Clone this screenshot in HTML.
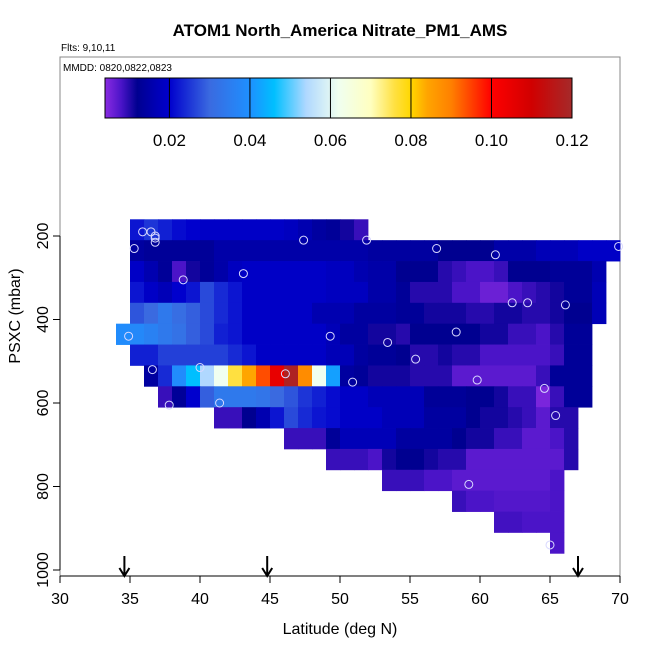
<!DOCTYPE html>
<html><head><meta charset="utf-8"><style>
body{margin:0;background:#fff}
svg{display:block;font-family:"Liberation Sans",sans-serif}
</style></head><body>
<svg id="c" width="650" height="650" xmlns="http://www.w3.org/2000/svg">
<text x="340" y="36" text-anchor="middle" font-size="17" font-weight="bold">ATOM1 North_America Nitrate_PM1_AMS</text>
<text x="61" y="51" font-size="10">Flts: 9,10,11</text>
<rect x="60" y="57" width="560" height="519" fill="none" stroke="#888" stroke-width="1"/>
<text x="63" y="71" font-size="10">MMDD: 0820,0822,0823</text>
<g id="cells"></g>
<g id="pts"></g>
<g id="cbar"></g>
<g id="axes"></g>
<text x="340" y="634" text-anchor="middle" font-size="16">Latitude (deg N)</text>
<text transform="translate(20,316) rotate(-90)" text-anchor="middle" font-size="16">PSXC (mbar)</text>
</svg>
<script>
const rowPressures=[185,235,285,335,385,435,485,535,585,635,685,735,785,835,885,935];
const rowStartLat=[35,35,35,35,35,34,35,36,37,41,46,49,53,58,61,65];
const row0=[0.022,0.025,0.023,0.021,0.020,0.019,0.019,0.019,0.019,0.019,0.019,0.018,0.016,0.014,0.013,0.011,0.009];
const row1=[0.014,0.013,0.013,0.013,0.013,0.013,0.015,0.015,0.015,0.015,0.015,0.015,0.015,0.015,0.015,0.015,0.015,0.014,0.014,0.014,0.014,0.014,0.012,0.012,0.012,0.012,0.015,0.015,0.015,0.017,0.017,0.017,0.019,0.019,0.019];
const row2=[0.019,0.016,0.013,0.008,0.011,0.013,0.015,0.018,0.019,0.019,0.019,0.019,0.019,0.019,0.018,0.018,0.016,0.015,0.015,0.012,0.012,0.012,0.010,0.009,0.008,0.008,0.009,0.012,0.012,0.012,0.013,0.013,0.013,0.016];
const row3=[0.022,0.019,0.017,0.020,0.022,0.027,0.024,0.022,0.019,0.019,0.019,0.019,0.019,0.019,0.018,0.018,0.018,0.015,0.015,0.013,0.010,0.010,0.010,0.008,0.008,0.006,0.006,0.008,0.009,0.010,0.011,0.013,0.013,0.017];
const row4=[0.028,0.030,0.034,0.031,0.029,0.027,0.024,0.022,0.019,0.019,0.019,0.019,0.019,0.016,0.016,0.016,0.014,0.014,0.014,0.013,0.013,0.011,0.011,0.011,0.010,0.010,0.011,0.011,0.010,0.010,0.011,0.012,0.012,0.017];
const row5=[0.039,0.038,0.036,0.034,0.032,0.029,0.027,0.023,0.022,0.019,0.019,0.019,0.019,0.019,0.019,0.017,0.014,0.014,0.011,0.011,0.010,0.012,0.012,0.012,0.012,0.012,0.011,0.011,0.009,0.009,0.008,0.010,0.013,0.013];
const row6=[0.023,0.023,0.026,0.026,0.026,0.026,0.026,0.024,0.022,0.019,0.019,0.019,0.019,0.019,0.017,0.017,0.014,0.013,0.013,0.012,0.010,0.010,0.011,0.010,0.010,0.008,0.008,0.008,0.008,0.008,0.009,0.013,0.013];
const row7=[0.014,0.024,0.039,0.046,0.054,0.062,0.076,0.084,0.094,0.105,0.118,0.088,0.062,0.042,0.014,0.013,0.011,0.011,0.011,0.010,0.010,0.010,0.007,0.007,0.007,0.007,0.007,0.007,0.009,0.013,0.013,0.013];
const row8=[0.009,0.013,0.020,0.029,0.034,0.034,0.034,0.033,0.030,0.028,0.025,0.023,0.021,0.019,0.019,0.017,0.017,0.017,0.017,0.013,0.013,0.013,0.012,0.012,0.011,0.009,0.009,0.005,0.009,0.013,0.013];
const row9=[0.009,0.009,0.012,0.016,0.022,0.027,0.024,0.022,0.021,0.019,0.019,0.019,0.017,0.017,0.017,0.014,0.014,0.014,0.012,0.011,0.011,0.010,0.009,0.007,0.010,0.010];
const row10=[0.009,0.009,0.009,0.013,0.017,0.017,0.017,0.017,0.014,0.014,0.014,0.014,0.012,0.011,0.011,0.009,0.009,0.007,0.007,0.008,0.010];
const row11=[0.009,0.009,0.009,0.008,0.011,0.012,0.012,0.011,0.010,0.010,0.007,0.007,0.007,0.007,0.007,0.007,0.007,0.010];
const row12=[0.009,0.009,0.009,0.008,0.008,0.007,0.007,0.007,0.007,0.007,0.007,0.007,0.008];
const row13=[0.009,0.008,0.008,0.0075,0.0075,0.0075,0.0075,0.008];
const row14=[0.0085,0.0085,0.008,0.008,0.008];
const row15=[0.008];
const rowValues=[row0,row1,row2,row3,row4,row5,row6,row7,row8,row9,row10,row11,row12,row13,row14,row15];
const pointLat=[35.9,36.5,36.8,36.8,36.8,35.3,47.4,51.9,38.8,43.1,34.9,49.3,36.6,40.0,46.1,50.9,37.8,41.4,56.9,61.1,69.9,62.3,63.4,66.1,58.3,53.4,55.4,59.8,64.6,65.4,59.2,65.0];
const pointP=[190,190,200,205,215,230,210,210,305,290,440,440,520,515,530,550,605,600,230,245,225,360,360,365,430,455,495,545,565,630,795,940];
const latTicks=[30,35,40,45,50,55,60,65,70];
const pTicks=[200,400,600,800,1000];
const cbTicks=[0.02,0.04,0.06,0.08,0.10,0.12];
const flightMarkLat=[34.6,44.8,67.0];
const cmapV=[0.004,0.008,0.012,0.016,0.02,0.03,0.04,0.046,0.054,0.062,0.07,0.076,0.08,0.084,0.09,0.095,0.10,0.11,0.12];
const cmapC=["#8a2be2","#4b14c8","#000090","#0000b0","#0000cd","#3a6ae0","#1e90ff","#00bfff","#b0d8ff","#f0fff0","#ffffc0","#ffe040","#ffd700","#ffa500","#ff8000","#ff4000","#ff0000","#d00000","#a52a2a"];

const NS="http://www.w3.org/2000/svg";
const X=lat=>60+(lat-30)*14;
const Y=p=>236+(p-200)*0.4175;
const CB=v=>105+(v-0.004)*(467/0.116);
function hex(h){return [1,3,5].map(i=>parseInt(h.substr(i,2),16));}
function color(v){
  if(v<=cmapV[0])return cmapC[0];
  for(let i=1;i<cmapV.length;i++){if(v<=cmapV[i]){const t=(v-cmapV[i-1])/(cmapV[i]-cmapV[i-1]);const a=hex(cmapC[i-1]),b=hex(cmapC[i]);return "rgb("+a.map((x,k)=>Math.round(x+(b[k]-x)*t)).join(",")+")";}}
  return cmapC[cmapC.length-1];
}
function mk(tag,attrs,parent){const e=document.createElementNS(NS,tag);for(const k in attrs)e.setAttribute(k,attrs[k]);parent.appendChild(e);return e;}
const cells=document.getElementById('cells');
rowValues.forEach((vals,r)=>{
  const y0=Y(rowPressures[r]-25),y1=Y(rowPressures[r]+25);
  vals.forEach((v,j)=>{
    const lat=rowStartLat[r]+j;
    const e=mk('rect',{x:X(lat),y:y0,width:X(lat+1)-X(lat)+0.4,height:y1-y0+0.4,fill:color(v)},cells);
    
    
  });
});
const pts=document.getElementById('pts');
pointLat.forEach((lat,i)=>{
  const e=mk('circle',{cx:X(lat),cy:Y(pointP[i]),r:4,fill:'none',stroke:'#d8d8ff','stroke-width':1},pts);
  
  
});
// colorbar
const cb=document.getElementById('cbar');
const defs=mk('defs',{},cb);
const lg=mk('linearGradient',{id:'g',x1:0,x2:1,y1:0,y2:0},defs);
cmapV.forEach((v,i)=>mk('stop',{offset:(CB(v)-105)/467,'stop-color':cmapC[i]},lg));
const cbr=mk('rect',{x:105,y:78,width:467,height:40,fill:'url(#g)',stroke:'#000','stroke-width':1},cb);


cbTicks.forEach(v=>{
  const l=mk('line',{x1:CB(v),x2:CB(v),y1:78,y2:118,stroke:'#000','stroke-width':1},cb);
  
  
  const t=mk('text',{x:CB(v),y:146,'text-anchor':'middle','font-size':17},cb);
  t.textContent=v.toFixed(2);
  
  
});
// axes
const ax=document.getElementById('axes');
const xl=mk('line',{x1:60,x2:620,y1:576,y2:576,stroke:'#000'},ax);


const yl=mk('line',{x1:60,x2:60,y1:Y(200),y2:Y(1000),stroke:'#000'},ax);


latTicks.forEach(v=>{
  const l=mk('line',{x1:X(v),x2:X(v),y1:576,y2:583,stroke:'#000'},ax);
  
  
  const t=mk('text',{x:X(v),y:604,'text-anchor':'middle','font-size':16},ax);
  t.textContent=v;
  
  
});
pTicks.forEach(v=>{
  const l=mk('line',{x1:53,x2:60,y1:Y(v),y2:Y(v),stroke:'#000'},ax);
  
  
  const t=mk('text',{transform:'translate(48,'+Y(v)+') rotate(-90)','text-anchor':'middle','font-size':16},ax);
  t.textContent=v;
  
  
});
flightMarkLat.forEach(v=>{
  const g=mk('path',{d:'M'+X(v)+' 556 V575 M'+(X(v)-5)+' 568 L'+X(v)+' 576 L'+(X(v)+5)+' 568',stroke:'#000','stroke-width':2,fill:'none'},ax);
  
  
});
</script>
</body></html>
